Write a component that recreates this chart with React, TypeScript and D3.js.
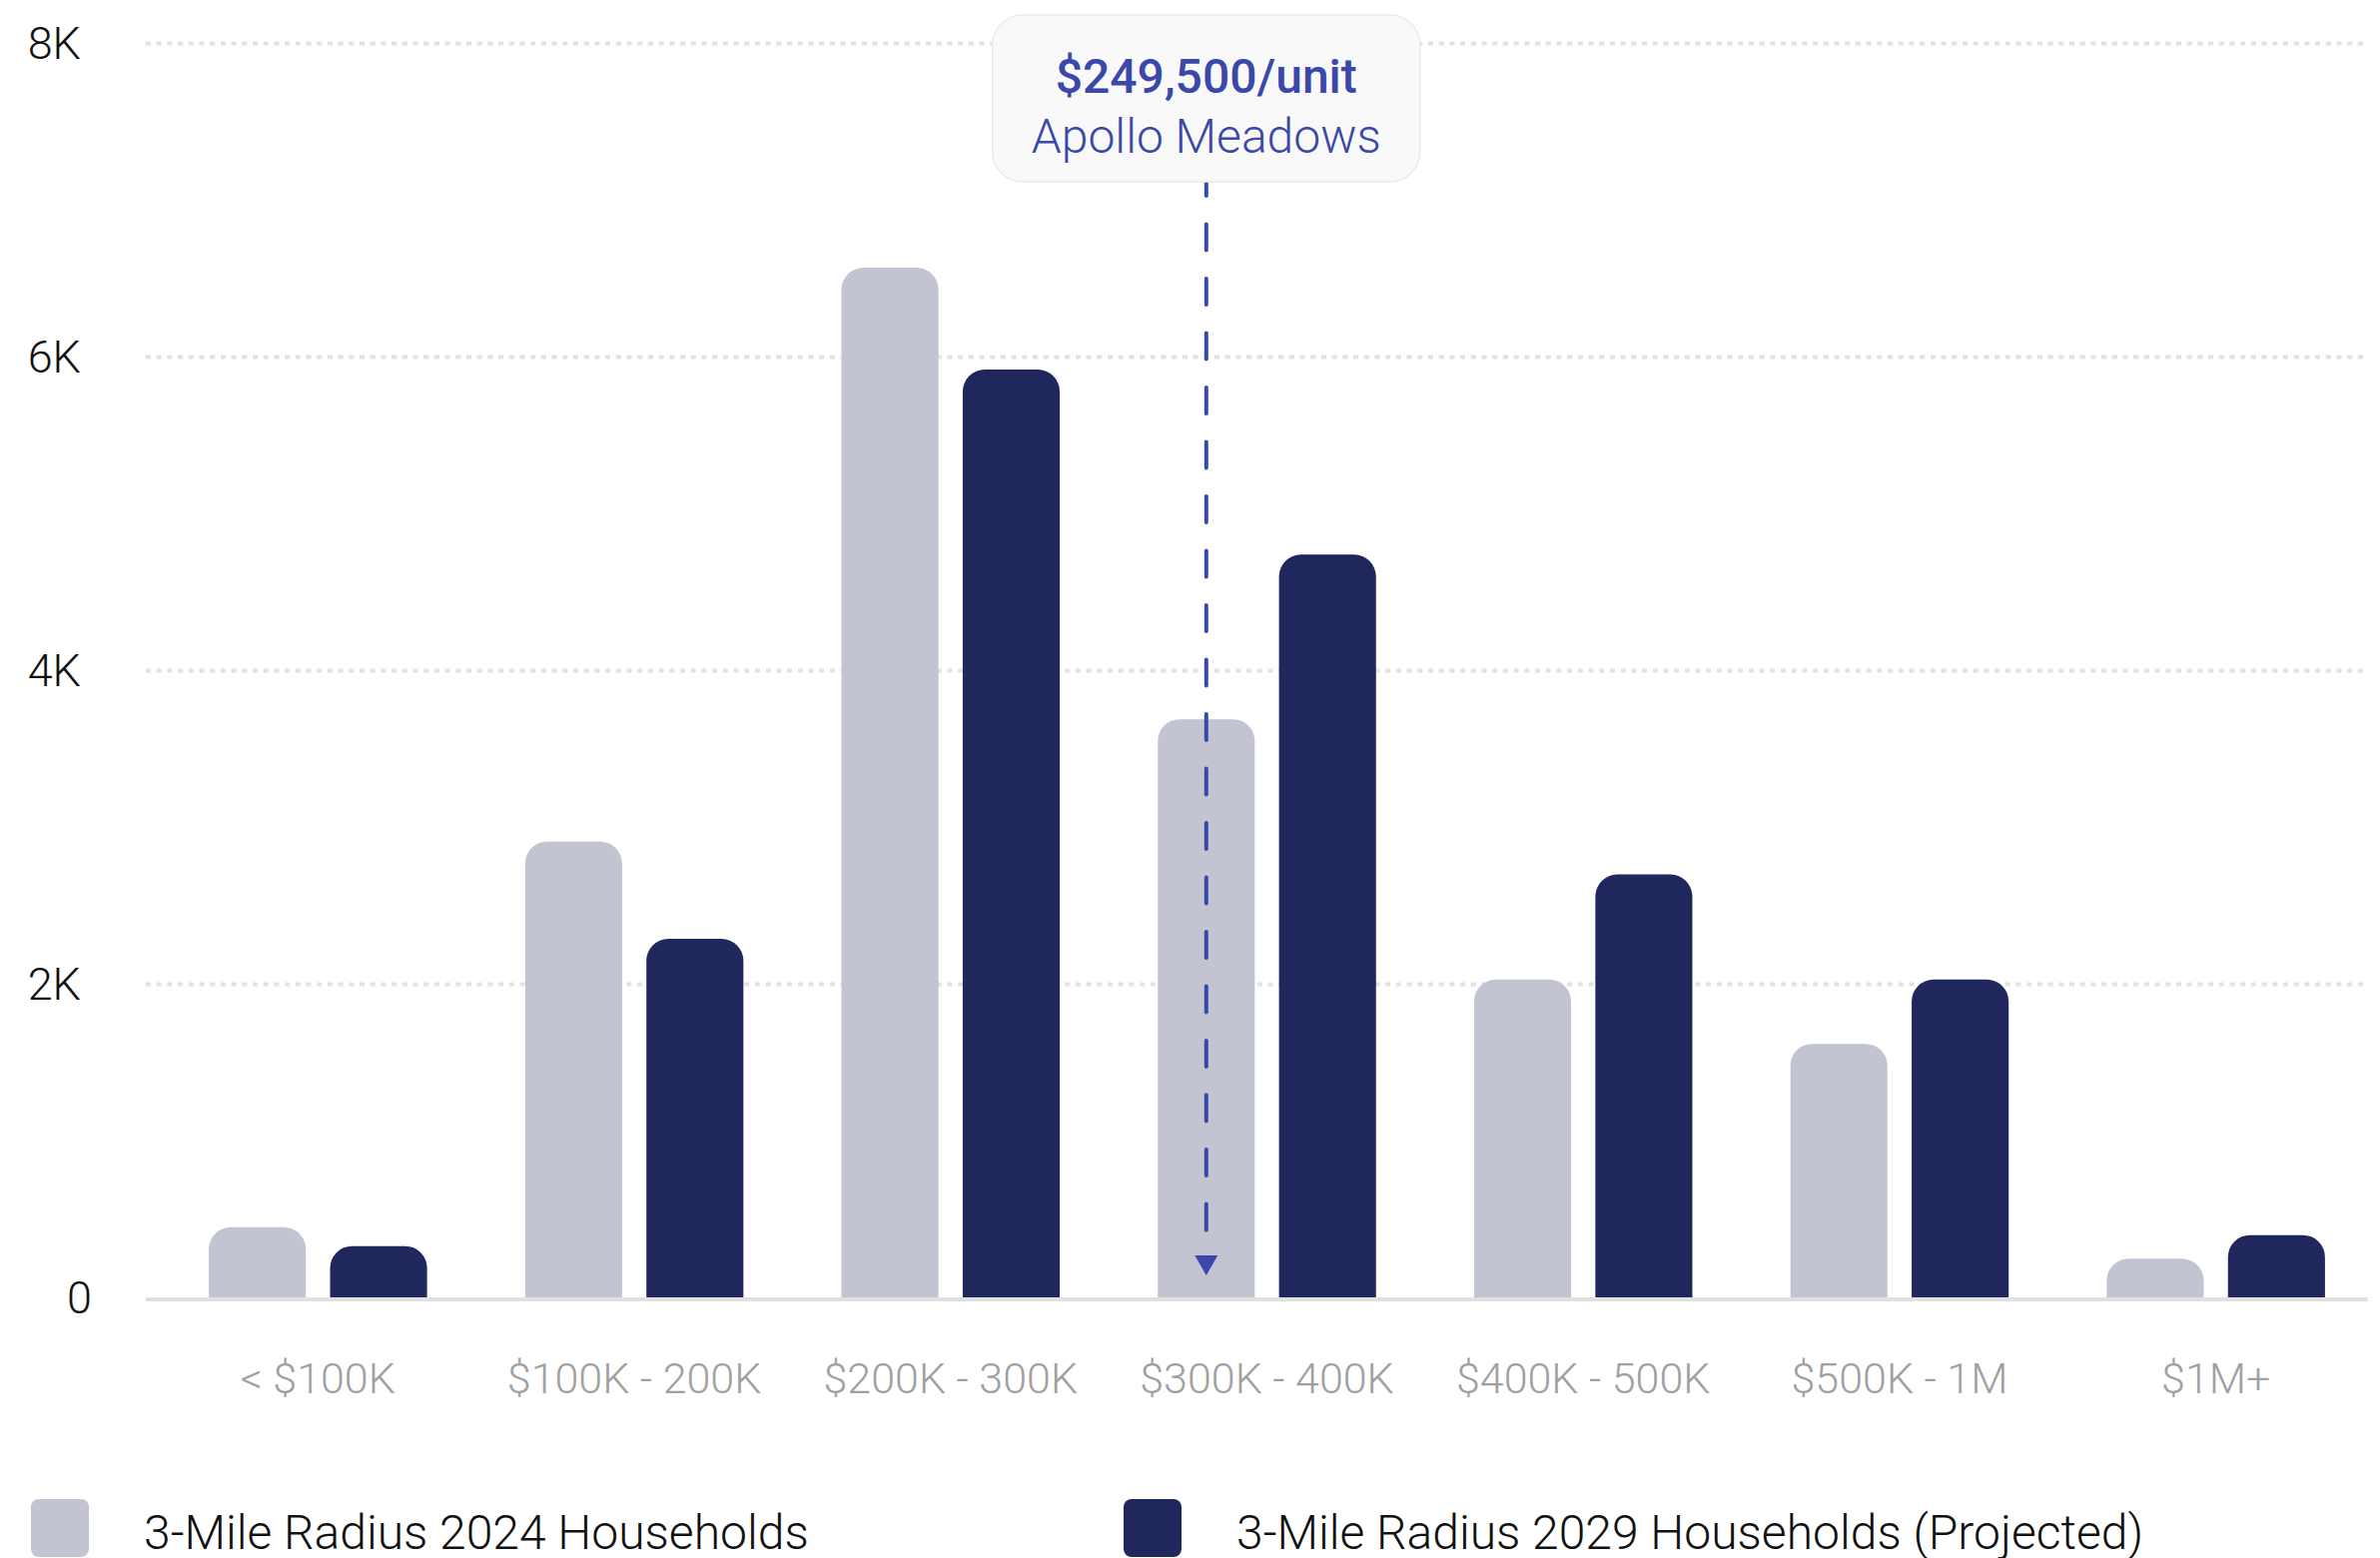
import React, { useEffect, useRef } from "react";
import * as d3 from "d3";

const categories = ["< $100K", "$100K - 200K", "$200K - 300K", "$300K - 400K", "$400K - 500K", "$500K - 1M", "$1M+"];
const series = ["2024", "2029"];
const seriesNames = ["3-Mile Radius 2024 Households", "3-Mile Radius 2029 Households (Projected)"];
const households2024 = [450, 2910, 6570, 3690, 2030, 1620, 250];
const households2029 = [330, 2290, 5920, 4740, 2700, 2030, 400];
const yTicks = [0, 2000, 4000, 6000, 8000];
const markerCategory = "$300K - 400K";
const markerPrice = "$249,500/unit";
const markerName = "Apollo Meadows";

const W = 2383;
const H = 1560;
const FONT = "Roboto, 'Noto Sans', sans-serif";
const colors = ["#c2c4d2", "#1f275c"];
const accent = "#3a48aa";

function topRounded(x: number, y: number, w: number, h: number, r: number) {
    r = Math.min(r, w / 2, h);
    return `M${x},${y + h}V${y + r}A${r},${r} 0 0 1 ${x + r},${y}H${x + w - r}A${r},${r} 0 0 1 ${x + w},${y + r}V${y + h}Z`;
}

export default function App() {
    const ref = useRef<SVGSVGElement>(null);

    useEffect(() => {
        const svg = d3.select(ref.current);
        svg.selectAll("*").remove();

        const gridLeft = 146, gridRight = 2371;
        const x = d3.scaleBand().domain(categories).range([160, 2377]).paddingInner(0.31).paddingOuter(0.155);
        const xs = d3.scaleBand().domain(series).range([0, x.bandwidth()]).paddingInner(0.2);
        const y = d3.scaleLinear().domain([0, 8000]).range([1299.5, 43.5]);

        // grid
        svg.append("g")
            .selectAll("line")
            .data(yTicks.filter(d => d > 0))
            .join("line")
            .attr("x1", gridLeft).attr("x2", gridRight)
            .attr("y1", d => y(d)).attr("y2", d => y(d))
            .attr("stroke", "#e2e2e2")
            .attr("stroke-width", 4)
            .attr("stroke-dasharray", "5,5.7");

        // y labels
        svg.append("g")
            .selectAll("text")
            .data(yTicks)
            .join("text")
            .attr("x", 92)
            .attr("y", d => y(d))
            .attr("dy", "0.35em")
            .attr("text-anchor", "end")
            .attr("font-family", FONT)
            .attr("font-weight", 300)
            .attr("font-size", 45)
            .attr("fill", "#111")
            .text(d => (d === 0 ? "0" : d / 1000 + "K\u00A0"));

        // bars
        const data = categories.map((c, i) => ({ c, vals: [households2024[i], households2029[i]] }));
        const groups = svg.append("g")
            .selectAll("g")
            .data(data)
            .join("g")
            .attr("transform", d => `translate(${x(d.c)},0)`);
        groups.selectAll("path")
            .data(d => d.vals.map((v, j) => ({ v, s: series[j], j })))
            .join("path")
            .attr("d", d => topRounded(xs(d.s)!, y(d.v), xs.bandwidth(), y(0) - y(d.v), 22))
            .attr("fill", d => colors[d.j]);

        // baseline
        svg.append("line")
            .attr("x1", gridLeft).attr("x2", gridRight)
            .attr("y1", y(0) + 1.5).attr("y2", y(0) + 1.5)
            .attr("stroke", "#e0e0e0")
            .attr("stroke-width", 4);

        // x labels
        svg.append("g")
            .selectAll("text")
            .data(categories)
            .join("text")
            .attr("x", d => x(d)! + x.bandwidth() / 2)
            .attr("y", 1395)
            .attr("text-anchor", "middle")
            .attr("font-family", FONT)
            .attr("font-weight", 300)
            .attr("font-size", 43)
            .attr("fill", "#a0a0a0")
            .text(d => d);

        // marker
        const mx = x(markerCategory)! + xs("2024")! + xs.bandwidth() / 2;
        svg.append("line")
            .attr("x1", mx).attr("x2", mx)
            .attr("y1", 170).attr("y2", 1250)
            .attr("stroke", accent)
            .attr("stroke-width", 4)
            .attr("stroke-linecap", "round")
            .attr("stroke-dasharray", "26,28.5");
        svg.append("path")
            .attr("d", `M${mx - 11.5},1257L${mx + 11.5},1257L${mx},1277Z`)
            .attr("fill", accent);

        const boxW = 428, boxH = 167;
        svg.append("rect")
            .attr("x", mx - boxW / 2).attr("y", 15)
            .attr("width", boxW).attr("height", boxH)
            .attr("rx", 30)
            .attr("fill", "#f9f9f9")
            .attr("stroke", "#ebebeb")
            .attr("stroke-width", 1.5);
        svg.append("text")
            .attr("x", mx).attr("y", 93)
            .attr("text-anchor", "middle")
            .attr("font-family", FONT)
            .attr("font-weight", 500)
            .attr("font-size", 48)
            .attr("fill", accent)
            .text(markerPrice);
        svg.append("text")
            .attr("x", mx).attr("y", 153)
            .attr("text-anchor", "middle")
            .attr("font-family", FONT)
            .attr("font-weight", 300)
            .attr("font-size", 48)
            .attr("fill", accent)
            .text(markerName);

        // legend
        const legendX = [31, 1125];
        const leg = svg.append("g")
            .selectAll("g")
            .data(seriesNames)
            .join("g")
            .attr("transform", (d, i) => `translate(${legendX[i]},1501)`);
        leg.append("rect")
            .attr("width", 58).attr("height", 58)
            .attr("rx", 8)
            .attr("fill", (d, i) => colors[i]);
        leg.append("text")
            .attr("x", 113)
            .attr("y", 50)
            .attr("font-family", FONT)
            .attr("font-weight", 300)
            .attr("font-size", 48)
            .attr("fill", "#111")
            .text(d => d);
    }, []);

    return (
        <svg
            ref={ref}
            width={W}
            height={H}
            style={{ position: "absolute", left: 0, top: 0, background: "#fff", display: "block" }}
        />
    );
}
